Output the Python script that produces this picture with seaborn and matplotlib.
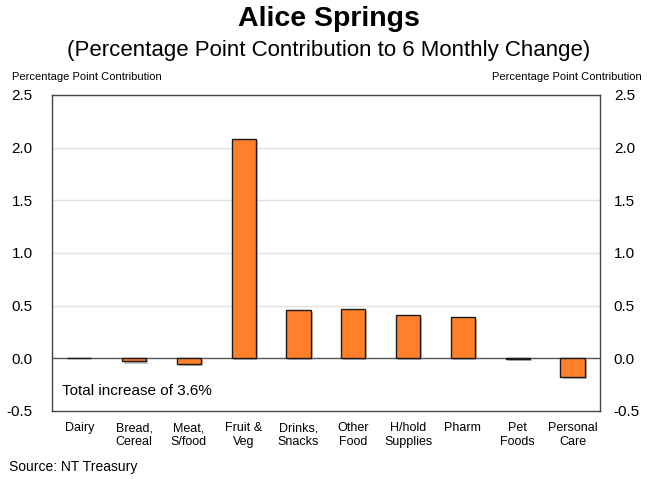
import matplotlib
matplotlib.use("Agg")
import matplotlib.pyplot as plt
import matplotlib.patheffects as pe
import seaborn as sns
import pandas as pd
import numpy as np

categories = ["Dairy", "Bread,\nCereal", "Meat,\nS/food", "Fruit &\nVeg", "Drinks,\nSnacks",
              "Other\nFood", "H/hold\nSupplies", "Pharm", "Pet\nFoods", "Personal\nCare"]
values = [0.005, -0.03, -0.05, 2.08, 0.46, 0.47, 0.41, 0.39, -0.01, -0.18]
yticks = [-0.5, 0.0, 0.5, 1.0, 1.5, 2.0, 2.5]

sns.set_theme(style="white")
plt.rcParams["font.family"] = ["Liberation Sans", "DejaVu Sans"]
plt.rcParams["text.color"] = "black"
plt.rcParams["xtick.color"] = "black"
plt.rcParams["ytick.color"] = "black"

df = pd.DataFrame({"cat": categories, "val": values})

fig = plt.figure(figsize=(6.57, 4.79), dpi=100)
ax = fig.add_axes([0.0791, 0.142, 0.834, 0.66])

sns.barplot(data=df, x="cat", y="val", ax=ax, color="#FF7F2A", width=0.44,
            edgecolor="#1a1a1a", linewidth=1.0, saturation=1)
for p in ax.patches:
    p.set_path_effects([pe.SimplePatchShadow(offset=(1.5, -1.5), shadow_rgbFace="#999999", alpha=0.6),
                        pe.Normal()])
    p.set_zorder(3)

ax.set_xlim(-0.5, len(categories) - 0.5)
ax.set_ylim(-0.5, 2.5)
ax.set_yticks(yticks)
ax.set_yticklabels([f"{t:.1f}" for t in yticks], fontsize=11)
for y in yticks[2:]:
    ax.axhline(y, color="#e0e0e0", lw=1.0, zorder=1)
ax.axhline(0, color="#555555", lw=1.0, zorder=2)
ax.tick_params(axis="y", length=0, pad=14, labelsize=11, colors="black")
ax.tick_params(axis="x", length=0, pad=8, labelsize=9, colors="black")
ax.set_xlabel("")
ax.set_ylabel("")
for s in ax.spines.values():
    s.set_color("#444444")
    s.set_linewidth(1.0)

ax2 = ax.twinx()
ax2.set_ylim(-0.5, 2.5)
ax2.set_yticks(yticks)
ax2.set_yticklabels([f"{t:.1f}" for t in yticks], fontsize=11)
ax2.tick_params(axis="y", length=0, pad=10, labelsize=11, colors="black")
ax2.grid(False)
for s in ax2.spines.values():
    s.set_visible(False)

ax.text(0.018, 0.063, "Total increase of 3.6%", transform=ax.transAxes, fontsize=11,
        ha="left", va="center", color="black")

fig.text(0.5, 0.960, "Alice Springs", ha="center", va="center", fontsize=20.5, fontweight="bold")
fig.text(0.5, 0.895, "(Percentage Point Contribution to 6 Monthly Change)", ha="center", va="center", fontsize=16)
fig.text(0.018, 0.839, "Percentage Point Contribution", ha="left", va="center", fontsize=8)
fig.text(0.977, 0.839, "Percentage Point Contribution", ha="right", va="center", fontsize=8)
fig.text(0.013, 0.025, "Source: NT Treasury", ha="left", va="center", fontsize=10)

fig.savefig("out.png", dpi=100)
